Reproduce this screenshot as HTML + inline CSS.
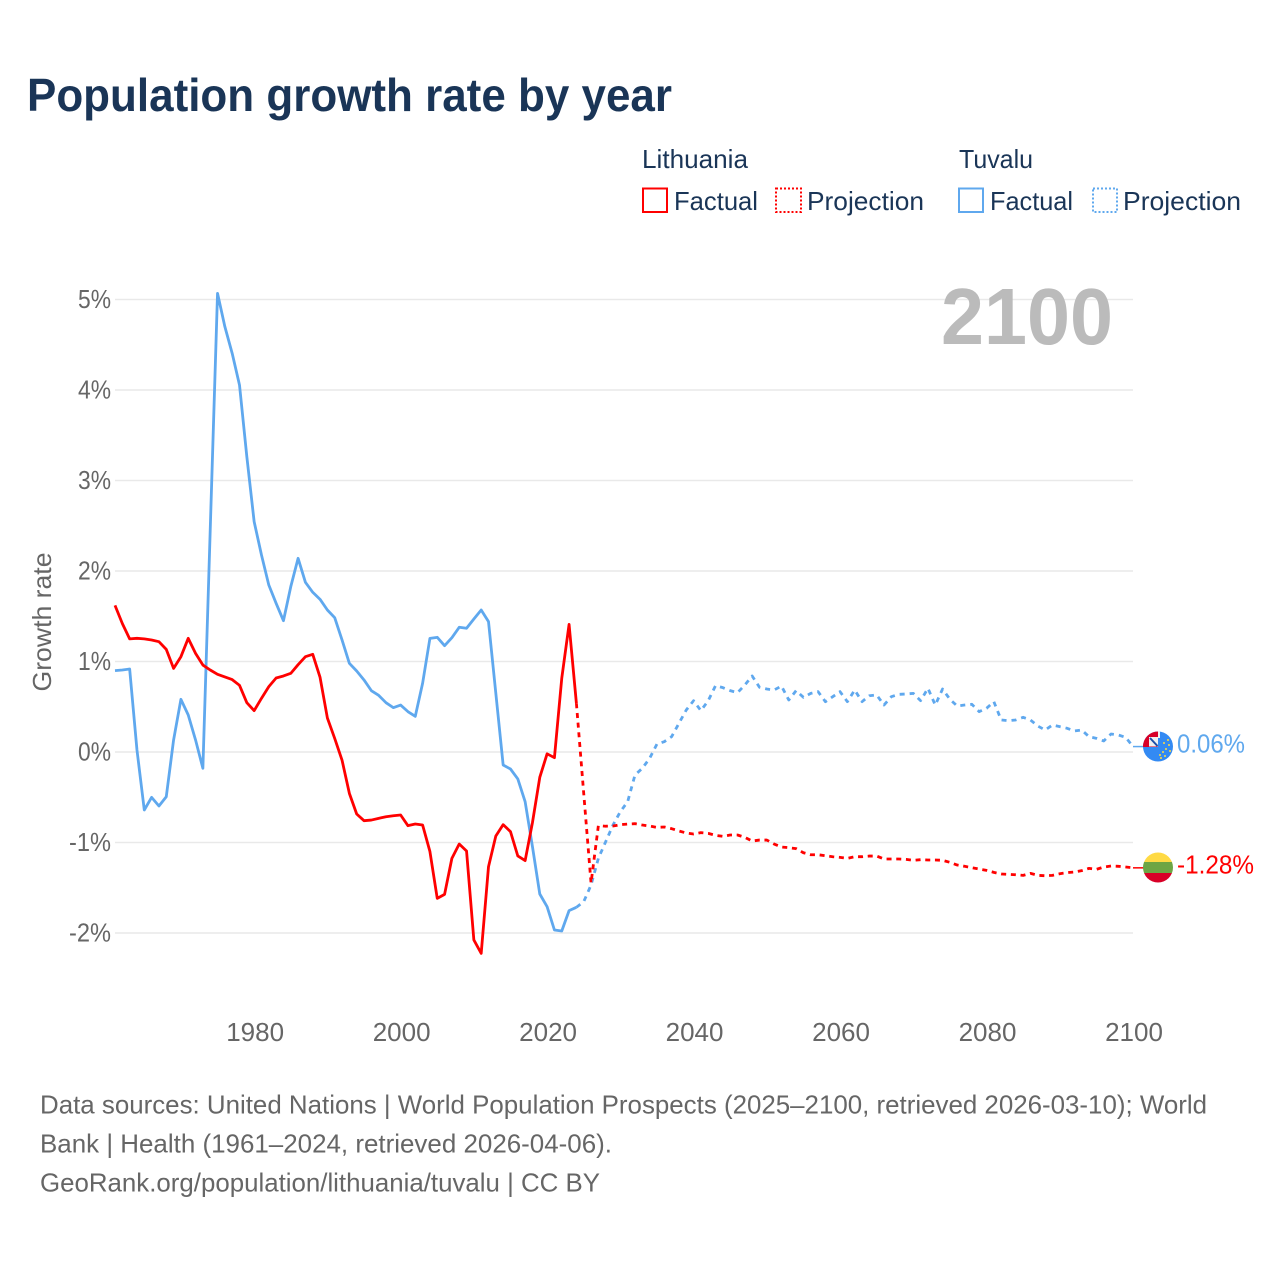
<!DOCTYPE html>
<html lang="en">
<head>
<meta charset="utf-8">
<title>Population growth rate by year</title>
<style>
html,body{margin:0;padding:0;background:#fff;}
#chart{display:block;width:1280px;height:1280px;font-family:"Liberation Sans",sans-serif;}
.grey{fill:#666666;}
.navy{fill:#1a3557;}
</style>
</head>
<body>
<svg id="chart" xmlns="http://www.w3.org/2000/svg" width="1280" height="1280" viewBox="0 0 1280 1280">
  <defs>
    <clipPath id="flag-clip-tv"><circle cx="1158" cy="746.5" r="15"/></clipPath>
    <clipPath id="flag-clip-lt"><circle cx="1158" cy="867.5" r="15"/></clipPath>
  </defs>
  <rect width="1280" height="1280" fill="#ffffff"/>

  <text x="27" y="111" font-size="46" font-weight="700" class="navy" textLength="645" lengthAdjust="spacingAndGlyphs">Population growth rate by year</text>

  <g>
    <text x="642" y="168" font-size="26" class="navy" textLength="106" lengthAdjust="spacingAndGlyphs">Lithuania</text>
    <g>
      <rect x="643" y="188.5" width="24" height="23.5" fill="none" stroke="#ff0000" stroke-width="2"/>
      <text x="674" y="210" font-size="26" class="navy" textLength="84" lengthAdjust="spacingAndGlyphs">Factual</text>
    </g>
    <g>
      <rect x="776" y="188.5" width="25" height="23.5" fill="none" stroke="#ff0000" stroke-width="2" stroke-dasharray="2 2"/>
      <text x="807" y="210" font-size="26" class="navy" textLength="117" lengthAdjust="spacingAndGlyphs">Projection</text>
    </g>
    <text x="959" y="168" font-size="26" class="navy" textLength="74" lengthAdjust="spacingAndGlyphs">Tuvalu</text>
    <g>
      <rect x="959" y="188.5" width="24" height="23.5" fill="none" stroke="#5fa8ee" stroke-width="2"/>
      <text x="990" y="210" font-size="26" class="navy" textLength="83" lengthAdjust="spacingAndGlyphs">Factual</text>
    </g>
    <g>
      <rect x="1093" y="188.5" width="24" height="23.5" fill="none" stroke="#5fa8ee" stroke-width="2" stroke-dasharray="2 2"/>
      <text x="1123" y="210" font-size="26" class="navy" textLength="118" lengthAdjust="spacingAndGlyphs">Projection</text>
    </g>
  </g>

  <g id="grid"></g>
  <g id="y-ticks"></g>
  <g id="x-ticks"></g>

  <text transform="translate(51 622) rotate(-90)" text-anchor="middle" font-size="26" class="grey" textLength="139" lengthAdjust="spacingAndGlyphs">Growth rate</text>

  <text x="1113" y="344" text-anchor="end" font-size="80" font-weight="700" fill="#bbbbbb" textLength="172" lengthAdjust="spacingAndGlyphs">2100</text>

  <g id="series"></g>

  <g clip-path="url(#flag-clip-tv)">
    <rect x="1143" y="731" width="30" height="31" fill="#338af3"/>
    <rect x="1143" y="731" width="15" height="16" fill="#d80027"/>
    <rect x="1158" y="731" width="2" height="7" fill="#f0f0f0"/>
    <rect x="1149" y="737" width="9" height="9.5" fill="#f0f0f0"/>
    <path d="M1150 738 L1157.5 746" stroke="#1d4fa8" stroke-width="2"/>
    <g fill="#ffda44">
      <circle cx="1168" cy="740" r="1"/><circle cx="1164" cy="743" r="1"/><circle cx="1169" cy="745" r="1"/>
      <circle cx="1166" cy="749" r="1"/><circle cx="1163" cy="752" r="1"/><circle cx="1170" cy="751" r="1"/>
      <circle cx="1160" cy="755" r="1"/><circle cx="1165" cy="756" r="1"/><circle cx="1161" cy="758" r="1"/>
    </g>
  </g>
  <g clip-path="url(#flag-clip-lt)">
    <rect x="1143" y="852" width="30" height="10.5" fill="#ffda44"/>
    <rect x="1143" y="862" width="30" height="11" fill="#6da544"/>
    <rect x="1143" y="873" width="30" height="10" fill="#d80027"/>
  </g>

  <text x="1177" y="752.5" font-size="26" fill="#5fa8ee" textLength="68" lengthAdjust="spacingAndGlyphs">0.06%</text>
  <text x="1177" y="873.5" font-size="26" fill="#ff0000" textLength="77" lengthAdjust="spacingAndGlyphs">-1.28%</text>

  <g>
    <text x="40" y="1113.5" font-size="26" class="grey" textLength="1167" lengthAdjust="spacingAndGlyphs">Data sources: United Nations | World Population Prospects (2025–2100, retrieved 2026-03-10); World</text>
    <text x="40" y="1152.5" font-size="26" class="grey" textLength="572" lengthAdjust="spacingAndGlyphs">Bank | Health (1961–2024, retrieved 2026-04-06).</text>
    <text x="40" y="1191.5" font-size="26" class="grey" textLength="560" lengthAdjust="spacingAndGlyphs">GeoRank.org/population/lithuania/tuvalu | CC BY</text>
  </g>
</svg>

<script>
var factualYears = [1961,1962,1963,1964,1965,1966,1967,1968,1969,1970,1971,1972,1973,1974,1975,1976,1977,1978,1979,1980,1981,1982,1983,1984,1985,1986,1987,1988,1989,1990,1991,1992,1993,1994,1995,1996,1997,1998,1999,2000,2001,2002,2003,2004,2005,2006,2007,2008,2009,2010,2011,2012,2013,2014,2015,2016,2017,2018,2019,2020,2021,2022,2023,2024];
var projectionYears = [2024,2025,2026,2027,2028,2029,2030,2031,2032,2033,2034,2035,2036,2037,2038,2039,2040,2041,2042,2043,2044,2045,2046,2047,2048,2049,2050,2051,2052,2053,2054,2055,2056,2057,2058,2059,2060,2061,2062,2063,2064,2065,2066,2067,2068,2069,2070,2071,2072,2073,2074,2075,2076,2077,2078,2079,2080,2081,2082,2083,2084,2085,2086,2087,2088,2089,2090,2091,2092,2093,2094,2095,2096,2097,2098,2099,2100];
var lithuaniaFactual = [1.62,1.42,1.25,1.256,1.25,1.238,1.219,1.134,0.924,1.053,1.256,1.09,0.961,0.906,0.858,0.829,0.80,0.737,0.545,0.457,0.593,0.722,0.818,0.84,0.869,0.965,1.053,1.079,0.825,0.376,0.15,-0.09,-0.457,-0.685,-0.759,-0.752,-0.733,-0.715,-0.704,-0.696,-0.814,-0.796,-0.807,-1.10,-1.617,-1.573,-1.175,-1.017,-1.094,-2.077,-2.225,-1.267,-0.928,-0.803,-0.88,-1.149,-1.20,-0.78,-0.28,-0.02,-0.063,0.814,1.41,0.538];
var lithuaniaProjection = [0.538,-0.457,-1.447,-0.814,-0.82,-0.818,-0.803,-0.796,-0.792,-0.807,-0.818,-0.833,-0.829,-0.847,-0.873,-0.895,-0.906,-0.891,-0.899,-0.921,-0.932,-0.917,-0.917,-0.943,-0.984,-0.973,-0.973,-1.017,-1.05,-1.057,-1.068,-1.113,-1.135,-1.135,-1.146,-1.157,-1.164,-1.175,-1.157,-1.157,-1.15,-1.15,-1.182,-1.182,-1.182,-1.186,-1.197,-1.19,-1.193,-1.193,-1.197,-1.219,-1.249,-1.263,-1.278,-1.293,-1.308,-1.33,-1.348,-1.352,-1.356,-1.363,-1.341,-1.363,-1.367,-1.363,-1.345,-1.333,-1.326,-1.311,-1.286,-1.297,-1.271,-1.26,-1.263,-1.271,-1.28];
var tuvaluFactual = [0.899,0.906,0.917,0.022,-0.641,-0.501,-0.597,-0.494,0.133,0.582,0.409,0.133,-0.18,2.45,5.068,4.70,4.405,4.055,3.263,2.545,2.177,1.845,1.643,1.451,1.827,2.14,1.875,1.765,1.687,1.569,1.484,1.238,0.98,0.895,0.796,0.678,0.626,0.545,0.49,0.519,0.446,0.394,0.759,1.256,1.267,1.175,1.263,1.378,1.367,1.47,1.569,1.44,0.648,-0.144,-0.188,-0.298,-0.549,-1.046,-1.569,-1.709,-1.967,-1.978,-1.753,-1.716];
var tuvaluProjection = [-1.716,-1.654,-1.47,-1.175,-0.991,-0.807,-0.659,-0.549,-0.254,-0.18,-0.07,0.088,0.114,0.169,0.317,0.464,0.567,0.457,0.567,0.733,0.711,0.678,0.656,0.74,0.84,0.715,0.696,0.685,0.729,0.575,0.678,0.604,0.648,0.667,0.556,0.611,0.667,0.556,0.685,0.556,0.622,0.63,0.519,0.611,0.637,0.641,0.648,0.567,0.704,0.519,0.696,0.582,0.508,0.519,0.527,0.446,0.483,0.556,0.354,0.346,0.354,0.383,0.354,0.287,0.243,0.298,0.28,0.262,0.232,0.243,0.169,0.151,0.122,0.199,0.188,0.162,0.06];
var yTickValues = [5,4,3,2,1,0,-1,-2];
var yTickLabels = ["5%","4%","3%","2%","1%","0%","-1%","-2%"];
var xTickValues = [1980,2000,2020,2040,2060,2080,2100];
var xTickLabels = ["1980","2000","2020","2040","2060","2080","2100"];

var SVG_NS = "http://www.w3.org/2000/svg";
function xScale(year){ return 115 + (year - 1961) * (1018 / 139); }
function yScale(value){ return 752 - value * 90.5; }
function makeEl(tag){ return document.createElementNS(SVG_NS, tag); }

var gridGroup = document.getElementById("grid");
var yTickGroup = document.getElementById("y-ticks");
var xTickGroup = document.getElementById("x-ticks");
var seriesGroup = document.getElementById("series");

yTickValues.forEach(function(v, i){
  var line = makeEl("line");
  
  
  line.setAttribute("x1", xScale(1961));
  line.setAttribute("x2", xScale(2100));
  line.setAttribute("y1", yScale(v));
  line.setAttribute("y2", yScale(v));
  line.setAttribute("stroke", "#e9e9e9");
  line.setAttribute("stroke-width", "1.4");
  gridGroup.appendChild(line);

  var label = makeEl("text");
  
  
  label.setAttribute("x", 111);
  label.setAttribute("y", yScale(v) + 8.5);
  label.setAttribute("text-anchor", "end");
  label.setAttribute("font-size", "26");
  label.setAttribute("class", "grey");
  label.setAttribute("textLength", yTickLabels[i].length > 2 ? 42 : 33);
  label.setAttribute("lengthAdjust", "spacingAndGlyphs");
  label.textContent = yTickLabels[i];
  yTickGroup.appendChild(label);
});

xTickValues.forEach(function(y, i){
  var label = makeEl("text");
  
  
  label.setAttribute("x", xScale(y) + 1);
  label.setAttribute("y", 1041);
  label.setAttribute("text-anchor", "middle");
  label.setAttribute("font-size", "26");
  label.setAttribute("class", "grey");
  label.textContent = xTickLabels[i];
  xTickGroup.appendChild(label);
});

function drawSeries(name, years, values, color, dash){
  var path = makeEl("path");
  
  
  var d = values.map(function(v, i){
    return (i ? "L" : "M") + xScale(years[i]).toFixed(2) + " " + yScale(v).toFixed(2);
  }).join(" ");
  path.setAttribute("d", d);
  path.setAttribute("fill", "none");
  path.setAttribute("stroke", color);
  path.setAttribute("stroke-width", "2.8");
  path.setAttribute("stroke-linejoin", "round");
  if (dash) path.setAttribute("stroke-dasharray", dash);
  seriesGroup.appendChild(path);
}

function drawConnector(name, value, color){
  var line = makeEl("line");
  
  
  line.setAttribute("x1", xScale(2100));
  line.setAttribute("x2", 1144);
  line.setAttribute("y1", yScale(value));
  line.setAttribute("y2", yScale(value));
  line.setAttribute("stroke", color);
  line.setAttribute("stroke-width", "1.5");
  seriesGroup.appendChild(line);
}

drawSeries("line-tuvalu-projection", projectionYears, tuvaluProjection, "#5fa8ee", "5 5");
drawSeries("line-tuvalu-factual", factualYears, tuvaluFactual, "#5fa8ee", null);
drawSeries("line-lithuania-projection", projectionYears, lithuaniaProjection, "#ff0000", "5 4.7");
drawSeries("line-lithuania-factual", factualYears, lithuaniaFactual, "#ff0000", null);
drawConnector("connector-tuvalu", tuvaluProjection[tuvaluProjection.length - 1], "#5fa8ee");
drawConnector("connector-lithuania", lithuaniaProjection[lithuaniaProjection.length - 1], "#ff0000");
</script>
</body>
</html>
